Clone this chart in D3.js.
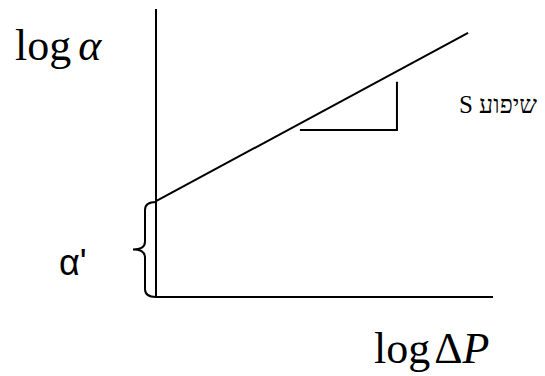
<!DOCTYPE html>
<html>
<head>
<meta charset="utf-8">
<script src="https://cdn.jsdelivr.net/npm/d3@7"></script>
<style>
  html, body { margin: 0; padding: 0; background: #fff; }
  svg { display: block; }
</style>
</head>
<body>
<svg id="chart" width="545" height="376"></svg>
<script>
// Schematic: log α against log ΔP, a straight line with intercept α' and slope S
const xDomain = [0, 10];
const yDomain = [0, 10];
const intercept = 3.33;            // value of log α where the line meets the vertical axis
const lineEnd = [9.26, 9.17];      // far end of the fitted line
const slopeTriangle = [[4.27, 5.8], [7.15, 5.8], [7.15, 7.47]];
const labels = {
  yAxis: "log",
  yVar: "α",
  xAxis: "log",
  xDelta: "Δ",
  xVar: "P",
  interceptLabel: "α'",
  slopeLabel: "שיפוע S"
};

const svg = d3.select("#chart");
const x = d3.scaleLinear().domain(xDomain).range([156, 493]);
const y = d3.scaleLinear().domain(yDomain).range([297, 9]);

const ink = "#000";
const g = svg.append("g").attr("fill", "none").attr("stroke", ink).attr("stroke-width", 2);

// axes
g.append("line").attr("x1", x(0)).attr("y1", y(0)).attr("x2", x(0)).attr("y2", y(10));
g.append("line").attr("x1", x(0)).attr("y1", y(0)).attr("x2", x(10)).attr("y2", y(0));

// fitted line
g.append("line")
  .attr("x1", x(0)).attr("y1", y(intercept))
  .attr("x2", x(lineEnd[0])).attr("y2", y(lineEnd[1]));

// slope triangle (two legs)
g.append("path")
  .attr("d", d3.line().x(d => x(d[0])).y(d => y(d[1]))(slopeTriangle));

// curly brace marking the intercept
const bTop = y(intercept) + 1, bBot = y(0), bMid = (bTop + bBot) / 2;
const bx = x(0), bv = bx - 11, tip = bx - 23, r = 8;
const brace = d3.path();
brace.moveTo(bx, bTop);
brace.quadraticCurveTo(bv, bTop, bv, bTop + r);
brace.lineTo(bv, bMid - r);
brace.quadraticCurveTo(bv, bMid, tip, bMid);
brace.quadraticCurveTo(bv, bMid, bv, bMid + r);
brace.lineTo(bv, bBot - r);
brace.quadraticCurveTo(bv, bBot, bx, bBot);
g.append("path").attr("d", brace.toString());

// text
const serif = "'Liberation Serif', 'Times New Roman', serif";
const yl = svg.append("text").attr("x", 15).attr("y", 60)
  .attr("font-family", serif).attr("font-size", 44).attr("fill", ink);
yl.append("tspan").text(labels.yAxis);
yl.append("tspan").attr("dx", 7).attr("font-style", "italic").text(labels.yVar);

const xl = svg.append("text").attr("x", 374).attr("y", 363)
  .attr("font-family", serif).attr("font-size", 44).attr("fill", ink);
xl.append("tspan").text(labels.xAxis);
xl.append("tspan").attr("dx", 4).text(labels.xDelta);
xl.append("tspan").attr("font-style", "italic").text(labels.xVar);

svg.append("text").attr("x", 59).attr("y", 275)
  .attr("font-family", "'Liberation Sans', Arial, sans-serif").attr("font-size", 36)
  .attr("fill", ink).text(labels.interceptLabel);

svg.append("text").attr("x", 537).attr("y", 113)
  .attr("text-anchor", "start").attr("direction", "rtl")
  .attr("font-family", serif).attr("font-size", 25)
  .attr("fill", ink).text(labels.slopeLabel);
</script>
</body>
</html>
